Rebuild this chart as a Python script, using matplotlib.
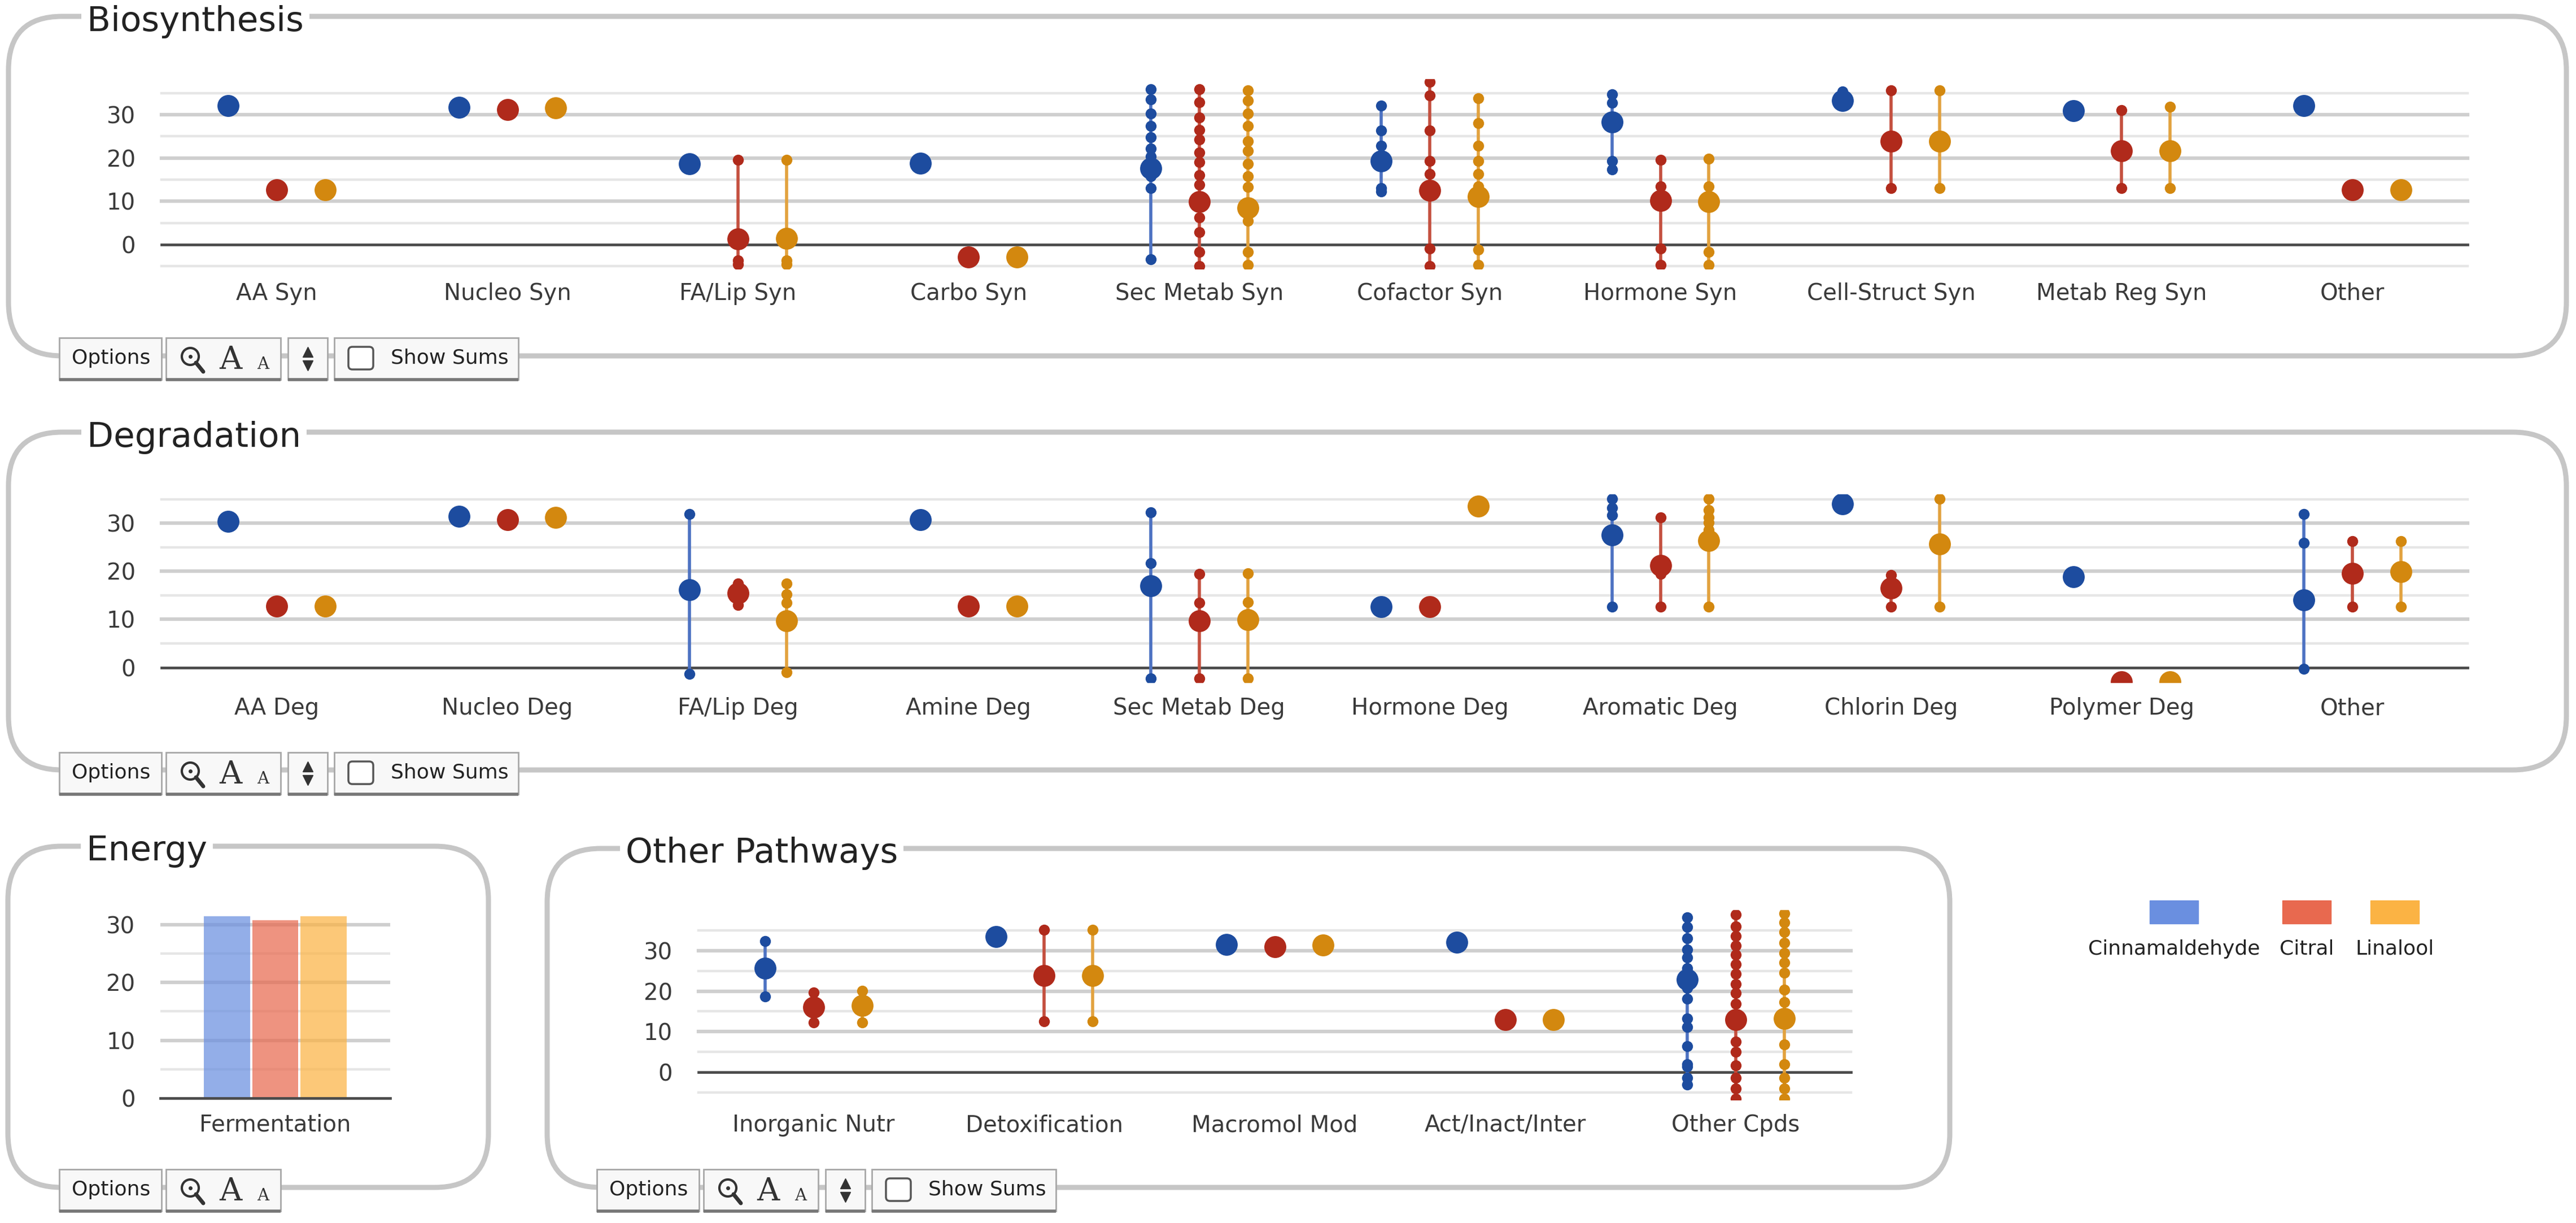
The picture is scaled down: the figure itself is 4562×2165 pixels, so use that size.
import matplotlib
matplotlib.use("Agg")
import matplotlib.pyplot as plt
from matplotlib.patches import FancyBboxPatch, Rectangle, Circle

# ---- data ----
series_names = ["Cinnamaldehyde", "Citral", "Linalool"]

bio_cats = ["AA Syn", "Nucleo Syn", "FA/Lip Syn", "Carbo Syn", "Sec Metab Syn",
            "Cofactor Syn", "Hormone Syn", "Cell-Struct Syn", "Metab Reg Syn", "Other"]
bio_cin_mean = [32.1, 31.7, 18.6, 18.8, 17.6, 19.3, 28.3, 33.3, 30.9, 32.1]
bio_cin_pts = [[], [], [], [],
               [35.9, 33.5, 30.3, 27.4, 24.8, 22.2, 20.4, 15.8, 13.1, -3.4],
               [32.1, 26.3, 22.8, 13.1, 12.2],
               [34.7, 32.7, 19.3, 17.4],
               [35.3], [], []]
bio_cit_mean = [12.7, 31.1, 1.3, -2.9, 9.9, 12.5, 10.2, 23.9, 21.6, 12.7]
bio_cit_pts = [[], [], [19.5, -3.6, -4.5], [],
               [35.8, 32.9, 29.4, 26.5, 24.2, 21.3, 19.0, 16.1, 13.8, 6.2, 2.9, -1.7, -5.0],
               [37.6, 34.4, 26.3, 19.3, 16.3, -0.9, -5.0],
               [19.5, 13.4, -0.9, -4.7],
               [35.6, 13.1], [31.0, 13.1], []]
bio_lin_mean = [12.7, 31.5, 1.5, -2.9, 8.5, 11.1, 9.9, 23.9, 21.7, 12.7]
bio_lin_pts = [[], [], [19.5, -3.6, -4.5], [],
               [35.6, 33.2, 30.3, 27.4, 23.9, 21.6, 18.7, 15.8, 13.3, 5.5, -1.7, -4.7],
               [33.8, 28.0, 22.8, 19.3, 16.3, 13.4, -1.2, -4.7],
               [19.8, 13.4, -1.7, -4.7],
               [35.6, 13.1], [31.8, 13.1], []]

deg_cats = ["AA Deg", "Nucleo Deg", "FA/Lip Deg", "Amine Deg", "Sec Metab Deg",
            "Hormone Deg", "Aromatic Deg", "Chlorin Deg", "Polymer Deg", "Other"]
deg_cin_mean = [30.4, 31.4, 16.1, 30.7, 17.0, 12.6, 27.5, 34.0, 18.8, 14.1]
deg_cin_pts = [[], [], [31.9, -1.3], [], [32.3, 21.7, -2.3], [],
               [35.1, 33.2, 31.7, 12.6], [], [], [31.9, 25.9, -0.3]]
deg_cit_mean = [12.8, 30.7, 15.4, 12.8, 9.7, 12.6, 21.2, 16.5, -3.0, 19.6]
deg_cit_pts = [[], [], [17.5, 13.0], [], [19.4, 13.4, -2.3], [],
               [31.2, 19.4, 12.6], [19.2, 12.6], [], [26.2, 12.6]]
deg_lin_mean = [12.8, 31.2, 9.7, 12.8, 9.9, 33.5, 26.4, 25.7, -3.0, 19.9]
deg_lin_pts = [[], [], [17.5, 15.2, 13.4, -1.0], [], [19.6, 13.6, -2.3], [],
               [35.1, 32.7, 31.2, 30.1, 28.6, 12.6], [35.1, 12.6], [], [26.2, 12.6]]

eng_cats = ["Fermentation"]
eng_cin = [31.4]
eng_cit = [30.8]
eng_lin = [31.4]

oth_cats = ["Inorganic Nutr", "Detoxification", "Macromol Mod", "Act/Inact/Inter", "Other Cpds"]
oth_cin_mean = [25.6, 33.4, 31.5, 32.0, 22.8]
oth_cin_pts = [[32.4, 18.7], [], [], [],
               [38.2, 35.8, 33.1, 30.3, 28.3, 25.6, 20.8, 18.1, 13.3, 11.2, 6.4, 2.0, 1.4, -1.4, -3.1]]
oth_cit_mean = [16.0, 23.9, 31.0, 13.0, 13.0]
oth_cit_pts = [[19.6, 12.3], [35.1, 12.6], [], [],
               [38.9, 36.0, 33.6, 31.2, 29.0, 26.6, 24.3, 21.8, 19.5, 16.9, 7.5, 5.0, 1.7, -1.4, -4.0, -6.5]]
oth_lin_mean = [16.4, 23.9, 31.4, 13.0, 13.3]
oth_lin_pts = [[20.1, 12.3], [35.1, 12.6], [], [],
               [39.2, 37.0, 34.5, 31.9, 29.4, 27.0, 24.5, 20.4, 17.3, 6.8, 2.0, -1.4, -4.0, -6.5]]

# ---- styling ----
dot_col = ["#1d4c9f", "#b02a1b", "#d3880f"]
line_col = ["#4d72c2", "#c4503f", "#e2a23f"]
key_col = ["#6a8fe0", "#e8694f", "#fbb344"]
offsets = [-0.21, 0.0, 0.21]

W, H = 4562, 2165
plt.rcParams["font.family"] = "DejaVu Sans"
fig = plt.figure(figsize=(W / 100, H / 100), dpi=100)

# background layer in pixel units, for boxes, titles and the toolbars
bg = fig.add_axes([0, 0, 1, 1], zorder=0)
bg.set_xlim(0, W)
bg.set_ylim(H, 0)
bg.axis("off")


def panel_box(x0, y0, x1, y1, title):
    bg.add_patch(FancyBboxPatch((x0, y0), x1 - x0, y1 - y0,
                                boxstyle="round,pad=0,rounding_size=95",
                                fc="white", ec="#c6c6c6", lw=6.5, zorder=1))
    bg.text(x0 + 139, y0 + 9, title, fontsize=44, color="#222222", ha="left", va="center",
            bbox=dict(fc="white", ec="none", pad=7), zorder=3)


def button(x0, x1, y0, h=74):
    bg.add_patch(Rectangle((x0, y0), x1 - x0, h, fc="#f8f8f8", ec="#a8a8a8", lw=2, zorder=4))
    bg.plot([x0, x1], [y0 + h, y0 + h], color="#777777", lw=4, zorder=5, solid_capstyle="butt")


def toolbar(x0, y0, full=True):
    button(x0, x0 + 181, y0)
    bg.text(x0 + 92, y0 + 36, "Options", fontsize=26, ha="center", va="center",
            color="#222222", zorder=6)
    button(x0 + 189, x0 + 392, y0)
    cx, cy = x0 + 232, y0 + 33
    bg.add_patch(Circle((cx, cy), 15, fill=False, ec="#333333", lw=3, zorder=6))
    bg.plot([cx + 10, cx + 23], [cy + 11, cy + 27], color="#333333", lw=5, zorder=6,
            solid_capstyle="round")
    bg.plot([cx], [cy], "o", ms=4, color="#333333", zorder=6)
    bg.text(x0 + 303, y0 + 40, "A", fontsize=40, family="DejaVu Serif", ha="center",
            va="center", color="#333333", zorder=6)
    bg.text(x0 + 361, y0 + 47, "A", fontsize=21, family="DejaVu Serif", ha="center",
            va="center", color="#333333", zorder=6)
    if full:
        button(x0 + 405, x0 + 475, y0)
        bg.plot([x0 + 440], [y0 + 25], marker="^", ms=13, color="#333333", zorder=6)
        bg.plot([x0 + 440], [y0 + 49], marker="v", ms=13, color="#333333", zorder=6)
        button(x0 + 487, x0 + 813, y0)
        bg.add_patch(FancyBboxPatch((x0 + 512, y0 + 16), 44, 40,
                                    boxstyle="round,pad=0,rounding_size=7",
                                    fc="white", ec="#555555", lw=2.5, zorder=6))
        bg.text(x0 + 691, y0 + 36, "Show Sums", fontsize=26, ha="center", va="center",
                color="#222222", zorder=6)


def make_axes(x0, x1, ytop, ybot):
    ax = fig.add_axes([x0 / W, 1 - ybot / H, (x1 - x0) / W, (ybot - ytop) / H], zorder=2)
    ax.patch.set_alpha(0)
    for s in ax.spines.values():
        s.set_visible(False)
    ax.tick_params(length=0, labelsize=29, labelcolor="#3a3a3a")
    return ax


def grid(ax, lo, hi):
    for v in range(lo, hi + 1, 5):
        if v == 0:
            color, lw, z = "#4a4a4a", 3.4, 2
        elif v % 10 == 0:
            color, lw, z = "#cfcfcf", 4.5, 1
        else:
            color, lw, z = "#e6e6e6", 3.2, 1
        ax.axhline(v, color=color, lw=lw, zorder=z, clip_on=False)


def dot_series(ax, means, pts, k):
    for i, (m, p) in enumerate(zip(means, pts)):
        x = i + offsets[k]
        if p:
            vals = p + [m]
            ax.vlines(x, min(vals), max(vals), color=line_col[k], lw=4, zorder=3)
            ax.scatter([x] * len(p), p, s=14 ** 2, color=dot_col[k], lw=0, zorder=4)
        ax.scatter([x], [m], s=28 ** 2, color=dot_col[k], lw=0, zorder=5)


def dot_panel(axpos, ylim, glo, cats, data, xpad):
    ax = make_axes(*axpos)
    grid(ax, glo, 35)
    for k, (means, pts) in enumerate(data):
        dot_series(ax, means, pts, k)
    ax.set_xlim(-0.5, len(cats) - 0.5)
    ax.set_ylim(*ylim)
    ax.set_xticks(range(len(cats)))
    ax.set_xticklabels(cats)
    ax.set_yticks([0, 10, 20, 30])
    ax.tick_params(axis="x", pad=xpad)
    ax.tick_params(axis="y", pad=33)
    return ax


# Biosynthesis
panel_box(15, 29, 4545, 630, "Biosynthesis")
dot_panel((286, 4370, 140, 476), (-5.6, 38.2), -5, bio_cats,
          [(bio_cin_mean, bio_cin_pts), (bio_cit_mean, bio_cit_pts), (bio_lin_mean, bio_lin_pts)], 17)
toolbar(105, 598)

# Degradation
panel_box(15, 765, 4545, 1363, "Degradation")
dot_panel((286, 4370, 875, 1208), (-3.1, 36), 0, deg_cats,
          [(deg_cin_mean, deg_cin_pts), (deg_cit_mean, deg_cit_pts), (deg_lin_mean, deg_lin_pts)], 19)
toolbar(105, 1332)

# Energy
panel_box(14, 1498, 865, 2102, "Energy")
ax = make_axes(284, 691, 1606, 1944)
for v in range(0, 31, 5):
    if v == 0:
        ax.axhline(v, color="#4a4a4a", lw=3.4, zorder=4, clip_on=False)
    elif v % 10 == 0:
        ax.axhline(v, color="#cfcfcf", lw=4.5, zorder=1)
    else:
        ax.axhline(v, color="#e6e6e6", lw=3.2, zorder=1)
for k, vals in enumerate([eng_cin, eng_cit, eng_lin]):
    ax.bar([i + offsets[k] for i in range(len(eng_cats))], vals, width=0.2,
           color=key_col[k], alpha=0.72, zorder=3)
ax.set_xlim(-0.5, len(eng_cats) - 0.5)
ax.set_ylim(0, 33)
ax.set_xticks(range(len(eng_cats)))
ax.set_xticklabels(eng_cats)
ax.set_yticks([0, 10, 20, 30])
ax.tick_params(axis="x", pad=20)
ax.tick_params(axis="y", pad=32)
toolbar(105, 2070, full=False)

# Other Pathways
panel_box(969, 1502, 3453, 2102, "Other Pathways")
dot_panel((1237, 3278, 1611, 1947), (-6.8, 40), -5, oth_cats,
          [(oth_cin_mean, oth_cin_pts), (oth_cit_mean, oth_cit_pts), (oth_lin_mean, oth_lin_pts)], 18)
toolbar(1057, 2070)

# Legend
leg_x = [3850, 4085, 4241]
for k, name in enumerate(series_names):
    bg.add_patch(Rectangle((leg_x[k] - 43, 1594), 86, 41, fc=key_col[k], ec=key_col[k], lw=1, zorder=2))
    bg.text(leg_x[k], 1680, name, fontsize=26, ha="center", va="center", color="#222222")

fig.savefig("out.png", dpi=100, facecolor="white")
